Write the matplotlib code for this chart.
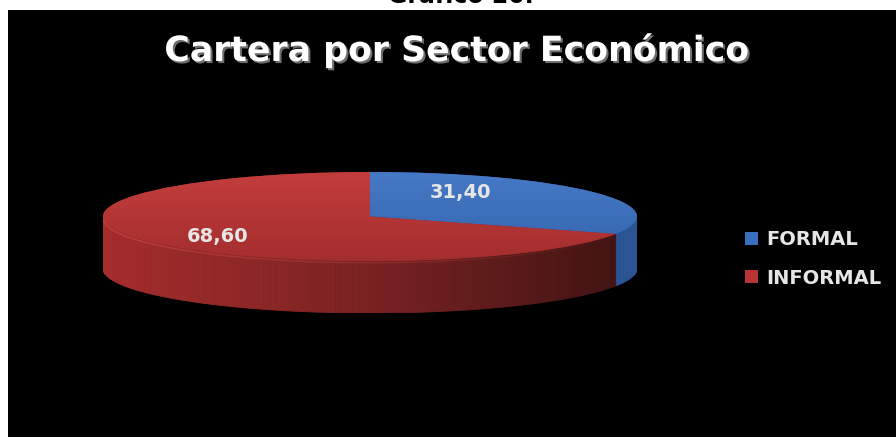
import numpy as np
import matplotlib
matplotlib.use('Agg')
import matplotlib.pyplot as plt
import matplotlib.patheffects as pe
from matplotlib.patches import Rectangle, Polygon
from matplotlib.colors import LinearSegmentedColormap

sectores = ['FORMAL', 'INFORMAL']
cartera = [31.40, 68.60]

# colores: cara superior (fondo, frente) y lateral (izq, centro, der)
tapa = [('#4679C6', '#3463AC'), ('#C43D3D', '#A42E2E')]
lado = [('#4A7CC8', '#3A69B2', '#2B5595'), ('#A62D2D', '#7A2222', '#401313')]
leyenda = ['#3A6FC0', '#B83434']

# posicion de las etiquetas dentro del pastel
pos_etq = [(0.34, 0.53), (-0.57, -0.46)]

W, H = 896, 437
fig = plt.figure(figsize=(W / 100, H / 100), dpi=100)
fig.patch.set_facecolor('white')
fig.add_artist(Rectangle((8 / W, 0), 1 - 8 / W, 1 - 10 / H, transform=fig.transFigure,
                         facecolor='black', edgecolor='none', zorder=0))

fig.text(461 / W, 1 - 3 / H, 'Gráfico 20.', ha='center', va='baseline',
         fontsize=17, fontweight='bold', color='black', family='DejaVu Sans')

fig.text(457 / W, 1 - 61 / H, 'Cartera por Sector Económico', ha='center', va='baseline',
         fontsize=25, fontweight='bold', color='white', family='DejaVu Sans',
         path_effects=[pe.SimplePatchShadow(offset=(1.5, -1.5), shadow_rgbFace='#8a8a8a', alpha=0.8),
                       pe.Normal()])

# geometria del pastel 3D (pixeles)
cx, a = 370, 267
y_top, y_front, y_bot = 172, 261, 313
b = (y_front - y_top) / 2
d = (y_bot - y_front) / b

ax = fig.add_axes([(cx - a) / W, 1 - y_bot / H, 2 * a / W, (y_bot - y_top) / H])
wedges, _ = ax.pie(cartera, startangle=90, counterclock=False, radius=1,
                   wedgeprops=dict(linewidth=0))
ax.set_aspect('auto')
ax.axis('off')

grad = np.linspace(0, 1, 256).reshape(-1, 1)
for i, w in enumerate(wedges):
    w.set_zorder(3)
    w.set_facecolor(tapa[i][1])
    cmap = LinearSegmentedColormap.from_list('t%d' % i, [tapa[i][0], tapa[i][1]])
    im = ax.imshow(grad, cmap=cmap, extent=(-1, 1, -1, 1), aspect='auto', zorder=4,
                   interpolation='bilinear')
    im.set_clip_path(w)

    # lateral visible: parte delantera de cada sector
    cmap_l = LinearSegmentedColormap.from_list('l%d' % i, list(lado[i]))
    t1, t2 = w.theta1, w.theta2
    for k in (-1, 0, 1):
        lo, hi = max(t1, -180 + 360 * k), min(t2, 360 * k)
        if hi <= lo:
            continue
        ang = np.radians(np.linspace(lo, hi, max(2, int(hi - lo) + 1)))
        for t0, t1b in zip(ang[:-1], ang[1:]):
            xm = (np.cos(t0) + np.cos(t1b)) / 2
            c = cmap_l((xm + 1) / 2)
            pts = [(np.cos(t0), np.sin(t0)), (np.cos(t1b), np.sin(t1b)),
                   (np.cos(t1b), np.sin(t1b) - d), (np.cos(t0), np.sin(t0) - d)]
            ax.add_patch(Polygon(pts, closed=True, facecolor=c, edgecolor=c,
                                 linewidth=0.6, zorder=2))

# brillo del borde delantero, se desvanece hacia la derecha
tt = np.radians(np.linspace(-178, -30, 60))
for j, (p, q) in enumerate(zip(tt[:-1], tt[1:])):
    alfa = 0.6 * (1 - j / len(tt))
    ax.plot([np.cos(p), np.cos(q)], [np.sin(p) - 0.04, np.sin(q) - 0.04],
            color='#D65050', lw=1.0, alpha=alfa, zorder=5, solid_capstyle='butt')

for (x, y), v in zip(pos_etq, cartera):
    ax.text(x, y, ('%.2f' % v).replace('.', ','), ha='center', va='center',
            fontsize=14, fontweight='bold', color='#E6E6E6', family='DejaVu Sans', zorder=6)

ax.set_xlim(-1, 1)
ax.set_ylim(-1 - d, 1)

handles = [Rectangle((0, 0), 1, 1, facecolor=c, edgecolor='none') for c in leyenda]
fig.legend(handles, sectores, loc='center left', bbox_to_anchor=(745 / W, 1 - 259 / H),
           frameon=False, borderpad=0, borderaxespad=0, handlelength=0.65, handleheight=0.65,
           handletextpad=0.45, labelspacing=1.0,
           prop=dict(family='DejaVu Sans', weight='bold', size=14), labelcolor='#E6E6E6')

fig.savefig('out.png', dpi=100, facecolor=fig.get_facecolor())
